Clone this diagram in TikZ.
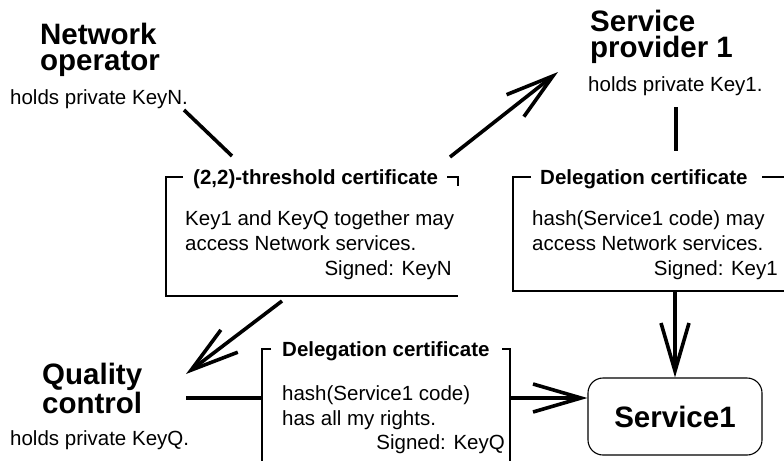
\documentclass[tikz,border=0pt]{standalone}
\usepackage{fontspec}
\setmainfont{Liberation Sans}
\usetikzlibrary{arrows.meta}
\tikzset{
  head/.style={font=\fontsize{29.5}{26}\selectfont\bfseries, align=left, inner sep=0pt, anchor=base west},
  body/.style={font=\fontsize{20.5}{24}\selectfont, inner sep=0pt, anchor=base west},
  bodyr/.style={body, anchor=base east},
  ctitle/.style={font=\fontsize{20.5}{24}\selectfont\bfseries, inner sep=0pt, anchor=base west},
  frame/.style={line width=1.1pt},
  conn/.style={line width=3.6pt},
  arr/.style={conn, -{Straight Barb[length=48pt,width=28pt]}},
}
\begin{document}
\begin{tikzpicture}[x=1pt,y=-1pt]
\useasboundingbox (0,0) rectangle (784,461);
% parties (base anchor = baseline of the last line)
\node[head] (no) at (40,70) {Network\\operator};
\node[body] (nok) at (10,104) {holds private KeyN.};
\node[head] (sp) at (590,57) {Service\\provider 1};
\node[body] (spk) at (588,91) {holds private Key1.};
\node[head] (qc) at (42,413) {Quality\\control};
\node[body] (qck) at (10,445) {holds private KeyQ.};
\node[draw, frame, rounded corners=15pt, minimum width=174pt, minimum height=77pt,
      font=\fontsize{29.5}{30}\selectfont\bfseries] (s1) at (675,416.5) {Service1};
% certificate 1
\node[ctitle] (t1) at (193,184) {(2,2)-threshold certificate};
\draw[frame] (183,177) -- (166,177) -- (166,296) -- (458,296);
\draw[frame] (447,177) -- (458,177) -- (458,186);
\node[body] (a1) at (185,225) {Key1 and KeyQ together may};
\node[body] (b1) at (185,250) {access Network services.};
\node[bodyr] (c1) at (452,275) {Signed: KeyN};
% certificate 2
\node[ctitle] (t2) at (540,184) {Delegation certificate};
\draw[frame] (531,177) -- (513,177) -- (513,291) -- (784,291);
\draw[frame] (762,177) -- (784,177);
\node[body] (a2) at (532,225) {hash(Service1 code) may};
\node[body] (b2) at (532,250) {access Network services.};
\node[bodyr] (c2) at (778,275) {Signed: Key1};
% certificate 3
\node[ctitle] (t3) at (282,356) {Delegation certificate};
\draw[frame] (271,349) -- (262,349) -- (262,461);
\draw[frame] (502,349) -- (510,349) -- (510,461);
\node[body] (a3) at (282,400) {hash(Service1 code)};
\node[body] (b3) at (282,425) {has all my rights.};
\node[bodyr] (c3) at (505,449) {Signed: KeyQ};
% connector ends
\coordinate (noE) at (184,110);
\coordinate (c1in) at (232,156);
\coordinate (c1outA) at (282,301);
\coordinate (qcA) at (186,374);
\coordinate (c1outB) at (450,157);
\coordinate (spA) at (558,72);
\coordinate (spE) at (676,107);
\coordinate (c2in) at (676,151);
\coordinate (c2out) at (675,291);
\coordinate (qcE) at (186,398);
\coordinate (c3in) at (262,398);
\coordinate (c3out) at (510,398);
% connectors
\draw[conn] (noE) -- (c1in);
\draw[arr] (c1outA) -- (qcA);
\draw[arr] (c1outB) -- (spA);
\draw[conn] (spE) -- (c2in);
\draw[arr] (c2out) -- (s1.north -| c2out);
\draw[conn] (qcE) -- (c3in);
\draw[arr] (c3out) -- (s1.west |- c3out);
\end{tikzpicture}
\end{document}
